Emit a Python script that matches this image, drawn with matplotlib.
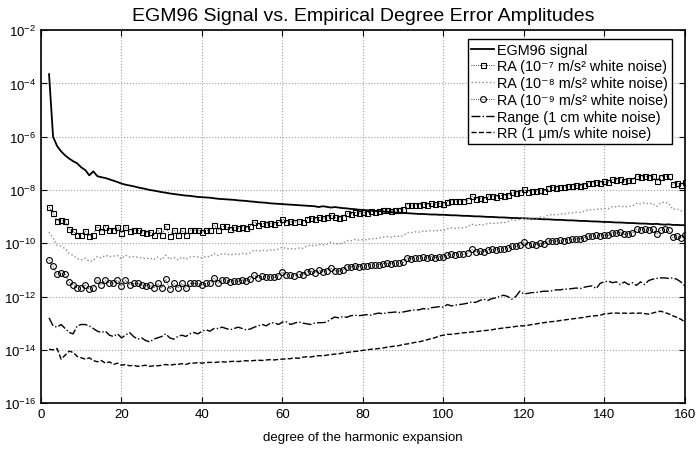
import numpy as np
import matplotlib
matplotlib.use("Agg")
import matplotlib.pyplot as plt

plt.rcParams['font.family'] = ['Liberation Sans', 'DejaVu Sans']
plt.rcParams['mathtext.fontset'] = 'custom'
plt.rcParams['mathtext.rm'] = 'Liberation Sans'
plt.rcParams['mathtext.it'] = 'Liberation Sans:italic'
plt.rcParams['mathtext.bf'] = 'Liberation Sans:bold'

# harmonic degree 2..160
degree = np.arange(2, 161)

# log10 of the degree amplitudes
egm96_exp = [
    -3.65, -6.00, -6.35, -6.55, -6.70, -6.82, -6.92, -7.00, -7.15, -7.25,
    -7.45, -7.30, -7.48, -7.52, -7.55, -7.60, -7.65, -7.70, -7.76, -7.80,
    -7.83, -7.86, -7.90, -7.93, -7.96, -8.00, -8.02, -8.05, -8.08, -8.10,
    -8.13, -8.15, -8.17, -8.19, -8.21, -8.22, -8.24, -8.26, -8.27, -8.28,
    -8.29, -8.31, -8.33, -8.34, -8.35, -8.36, -8.37, -8.39, -8.40, -8.41,
    -8.43, -8.44, -8.46, -8.47, -8.48, -8.50, -8.51, -8.52, -8.53, -8.54,
    -8.55, -8.56, -8.57, -8.58, -8.59, -8.60, -8.61, -8.64, -8.61, -8.63,
    -8.66, -8.64, -8.66, -8.68, -8.69, -8.71, -8.72, -8.74, -8.75, -8.76,
    -8.77, -8.79, -8.79, -8.81, -8.82, -8.83, -8.85, -8.85, -8.86, -8.87,
    -8.88, -8.89, -8.90, -8.90, -8.91, -8.92, -8.92, -8.93, -8.93, -8.94,
    -8.95, -8.95, -8.96, -8.97, -8.97, -8.98, -8.99, -8.99, -9.00, -9.01,
    -9.01, -9.02, -9.03, -9.03, -9.04, -9.05, -9.05, -9.06, -9.06, -9.07,
    -9.08, -9.08, -9.09, -9.10, -9.10, -9.11, -9.12, -9.12, -9.13, -9.14,
    -9.14, -9.15, -9.16, -9.16, -9.17, -9.18, -9.18, -9.19, -9.20, -9.20,
    -9.21, -9.22, -9.22, -9.23, -9.24, -9.24, -9.25, -9.26, -9.26, -9.27,
    -9.28, -9.27, -9.29, -9.30, -9.29, -9.31, -9.31, -9.32, -9.32]

ra7_exp = [
    -8.64, -8.86, -9.17, -9.13, -9.17, -9.47, -9.55, -9.68, -9.68, -9.55,
    -9.73, -9.68, -9.38, -9.55, -9.38, -9.49, -9.49, -9.38, -9.62, -9.38,
    -9.55, -9.51, -9.51, -9.56, -9.60, -9.56, -9.68, -9.50, -9.68, -9.35,
    -9.72, -9.50, -9.68, -9.51, -9.68, -9.51, -9.51, -9.51, -9.56, -9.51,
    -9.51, -9.32, -9.50, -9.37, -9.37, -9.45, -9.40, -9.43, -9.38, -9.42,
    -9.36, -9.20, -9.30, -9.24, -9.28, -9.25, -9.28, -9.22, -9.08, -9.19,
    -9.18, -9.22, -9.16, -9.19, -9.08, -9.04, -9.10, -9.02, -9.06, -9.03,
    -8.92, -9.03, -9.05, -9.00, -8.88, -8.90, -8.84, -8.88, -8.84, -8.87,
    -8.80, -8.83, -8.80, -8.76, -8.74, -8.77, -8.74, -8.75, -8.72, -8.55,
    -8.58, -8.55, -8.57, -8.52, -8.55, -8.50, -8.54, -8.50, -8.53, -8.44,
    -8.40, -8.43, -8.40, -8.42, -8.38, -8.23, -8.32, -8.30, -8.32, -8.24,
    -8.22, -8.25, -8.20, -8.22, -8.18, -8.09, -8.12, -8.08, -7.97, -8.06,
    -8.02, -8.05, -8.00, -8.03, -7.92, -7.90, -7.93, -7.88, -7.90, -7.86,
    -7.85, -7.83, -7.84, -7.80, -7.72, -7.74, -7.70, -7.72, -7.68, -7.70,
    -7.60, -7.62, -7.58, -7.66, -7.64, -7.62, -7.47, -7.50, -7.46, -7.52,
    -7.48, -7.66, -7.50, -7.47, -7.49, -7.78, -7.72, -7.80, -7.70]

ra8_exp = [
    -9.58, -9.80, -10.08, -10.12, -10.20, -10.38, -10.46, -10.58, -10.62, -10.56,
    -10.68, -10.65, -10.50, -10.55, -10.45, -10.50, -10.48, -10.46, -10.58, -10.45,
    -10.52, -10.50, -10.52, -10.55, -10.58, -10.55, -10.62, -10.52, -10.62, -10.45,
    -10.60, -10.52, -10.62, -10.52, -10.60, -10.52, -10.50, -10.52, -10.55, -10.50,
    -10.50, -10.38, -10.46, -10.40, -10.40, -10.44, -10.40, -10.42, -10.38, -10.40,
    -10.36, -10.25, -10.30, -10.26, -10.28, -10.25, -10.26, -10.22, -10.14, -10.21,
    -10.20, -10.22, -10.18, -10.19, -10.11, -10.07, -10.10, -10.04, -10.06, -10.04,
    -9.96, -10.02, -10.03, -9.99, -9.90, -9.91, -9.86, -9.88, -9.86, -9.87,
    -9.82, -9.83, -9.80, -9.77, -9.75, -9.77, -9.74, -9.74, -9.72, -9.60,
    -9.60, -9.57, -9.58, -9.54, -9.55, -9.52, -9.54, -9.51, -9.52, -9.46,
    -9.42, -9.44, -9.41, -9.42, -9.38, -9.28, -9.33, -9.30, -9.31, -9.26,
    -9.24, -9.26, -9.22, -9.23, -9.19, -9.12, -9.14, -9.10, -9.04, -9.08,
    -9.05, -9.06, -9.02, -9.03, -8.95, -8.92, -8.94, -8.90, -8.90, -8.87,
    -8.86, -8.84, -8.84, -8.80, -8.74, -8.75, -8.72, -8.72, -8.69, -8.70,
    -8.62, -8.63, -8.60, -8.64, -8.62, -8.60, -8.50, -8.52, -8.48, -8.52,
    -8.50, -8.62, -8.48, -8.46, -8.50, -8.72, -8.70, -8.78, -8.76]

ra9_exp = [
    -10.64, -10.86, -11.17, -11.13, -11.17, -11.47, -11.55, -11.68, -11.68, -11.55,
    -11.73, -11.68, -11.38, -11.55, -11.38, -11.49, -11.49, -11.38, -11.62, -11.38,
    -11.55, -11.51, -11.51, -11.56, -11.60, -11.56, -11.68, -11.50, -11.68, -11.35,
    -11.72, -11.50, -11.68, -11.51, -11.68, -11.51, -11.51, -11.51, -11.56, -11.51,
    -11.51, -11.32, -11.50, -11.37, -11.37, -11.45, -11.40, -11.43, -11.38, -11.42,
    -11.36, -11.20, -11.30, -11.24, -11.28, -11.25, -11.28, -11.22, -11.08, -11.19,
    -11.18, -11.22, -11.16, -11.19, -11.08, -11.04, -11.10, -11.02, -11.06, -11.03,
    -10.92, -11.03, -11.05, -11.00, -10.88, -10.90, -10.84, -10.88, -10.84, -10.87,
    -10.80, -10.83, -10.80, -10.76, -10.74, -10.77, -10.74, -10.75, -10.72, -10.55,
    -10.58, -10.55, -10.57, -10.52, -10.55, -10.50, -10.54, -10.50, -10.53, -10.44,
    -10.40, -10.43, -10.40, -10.42, -10.38, -10.23, -10.32, -10.30, -10.32, -10.24,
    -10.22, -10.25, -10.20, -10.22, -10.18, -10.09, -10.12, -10.08, -9.97, -10.06,
    -10.02, -10.05, -10.00, -10.03, -9.92, -9.90, -9.93, -9.88, -9.90, -9.86,
    -9.85, -9.83, -9.84, -9.80, -9.72, -9.74, -9.70, -9.72, -9.68, -9.70,
    -9.60, -9.62, -9.58, -9.66, -9.64, -9.62, -9.47, -9.50, -9.46, -9.52,
    -9.48, -9.66, -9.50, -9.47, -9.49, -9.78, -9.72, -9.80, -9.70]

range_exp = [
    -12.80, -13.10, -13.15, -13.05, -13.20, -13.35, -13.40, -13.10, -13.05, -13.05,
    -13.10, -13.20, -13.30, -13.35, -13.30, -13.45, -13.50, -13.40, -13.55, -13.45,
    -13.35, -13.50, -13.60, -13.55, -13.65, -13.70, -13.60, -13.55, -13.50, -13.40,
    -13.55, -13.60, -13.50, -13.45, -13.50, -13.40, -13.35, -13.40, -13.30, -13.25,
    -13.30, -13.20, -13.20, -13.15, -13.20, -13.25, -13.20, -13.15, -13.20, -13.25,
    -13.22, -13.15, -13.10, -13.05, -13.10, -13.00, -12.98, -13.05, -12.96, -12.95,
    -13.05, -13.00, -12.95, -13.00, -13.02, -13.05, -13.00, -12.98, -12.98, -12.96,
    -12.85, -12.77, -12.80, -12.75, -12.78, -12.72, -12.70, -12.72, -12.70, -12.68,
    -12.70, -12.65, -12.62, -12.65, -12.60, -12.60, -12.58, -12.60, -12.58, -12.55,
    -12.52, -12.50, -12.50, -12.45, -12.48, -12.42, -12.40, -12.38, -12.40, -12.30,
    -12.35, -12.32, -12.30, -12.28, -12.25, -12.20, -12.22, -12.15, -12.10, -12.15,
    -12.08, -12.05, -12.00, -11.95, -12.00, -12.10, -12.00, -11.80, -11.90, -11.88,
    -11.85, -11.85, -11.82, -11.80, -11.80, -11.78, -11.75, -11.75, -11.72, -11.72,
    -11.70, -11.68, -11.70, -11.65, -11.62, -11.60, -11.70, -11.50, -11.45, -11.42,
    -11.48, -11.45, -11.55, -11.45, -11.55, -11.48, -11.58, -11.45, -11.55, -11.40,
    -11.35, -11.32, -11.30, -11.30, -11.32, -11.30, -11.35, -11.45, -11.60]

rr_exp = [
    -13.98, -14.00, -13.95, -14.35, -14.20, -14.05, -14.10, -14.25, -14.30, -14.35,
    -14.30, -14.40, -14.45, -14.40, -14.50, -14.45, -14.55, -14.50, -14.58, -14.55,
    -14.60, -14.58, -14.62, -14.60, -14.58, -14.62, -14.60, -14.60, -14.58, -14.55,
    -14.58, -14.55, -14.55, -14.52, -14.55, -14.50, -14.50, -14.48, -14.50, -14.48,
    -14.47, -14.48, -14.46, -14.45, -14.46, -14.44, -14.43, -14.44, -14.42, -14.41,
    -14.42, -14.40, -14.39, -14.40, -14.38, -14.37, -14.38, -14.36, -14.35, -14.34,
    -14.33, -14.30, -14.32, -14.28, -14.26, -14.27, -14.24, -14.22, -14.23, -14.20,
    -14.18, -14.16, -14.15, -14.12, -14.10, -14.08, -14.06, -14.05, -14.02, -14.00,
    -13.98, -13.97, -13.95, -13.93, -13.90, -13.88, -13.86, -13.84, -13.80, -13.78,
    -13.75, -13.72, -13.70, -13.66, -13.62, -13.58, -13.54, -13.48, -13.45, -13.42,
    -13.42, -13.40, -13.38, -13.36, -13.35, -13.33, -13.32, -13.30, -13.28, -13.27,
    -13.25, -13.22, -13.20, -13.18, -13.16, -13.15, -13.12, -13.10, -13.10, -13.08,
    -13.05, -13.03, -13.00, -12.98, -12.96, -12.94, -12.93, -12.90, -12.88, -12.86,
    -12.84, -12.82, -12.80, -12.78, -12.75, -12.73, -12.72, -12.70, -12.65, -12.64,
    -12.62, -12.62, -12.63, -12.62, -12.64, -12.62, -12.63, -12.62, -12.64, -12.66,
    -12.62, -12.58, -12.55, -12.60, -12.65, -12.72, -12.78, -12.85, -12.95]

labels = ['EGM96 signal',
          'RA (10\u207b\u2077 m/s\u00b2 white noise)',
          'RA (10\u207b\u2078 m/s\u00b2 white noise)',
          'RA (10\u207b\u2079 m/s\u00b2 white noise)',
          'Range (1 cm white noise)',
          'RR (1 \u03bcm/s white noise)']

fig = plt.figure(figsize=(6.96, 4.52), dpi=100)
ax = fig.add_axes([0.0589, 0.106, 0.925, 0.825])

ax.semilogy(degree, 10.0 ** np.array(egm96_exp), '-', color='black', lw=1.3, label=labels[0])
ax.semilogy(degree, 10.0 ** np.array(ra7_exp), ':', color='black', lw=0.6, marker='s',
            ms=3.6, mfc='none', mec='black', mew=0.8, label=labels[1])
ax.semilogy(degree, 10.0 ** np.array(ra8_exp), ':', color='#8c8c8c', lw=1.0, label=labels[2])
ax.semilogy(degree, 10.0 ** np.array(ra9_exp), ':', color='black', lw=0.6, marker='o',
            ms=4.2, mfc='none', mec='black', mew=0.8, label=labels[3])
ax.semilogy(degree, 10.0 ** np.array(range_exp), '-.', color='black', lw=1.0, label=labels[4])
ax.semilogy(degree, 10.0 ** np.array(rr_exp), '--', color='black', lw=1.0, label=labels[5])

ax.set_xlim(0, 160)
ax.set_ylim(1e-16, 1e-2)
ax.set_xticks(np.arange(0, 161, 20))
ax.set_yticks([10.0 ** k for k in range(-16, -1, 2)])
ax.minorticks_off()
ax.tick_params(direction='in', top=True, right=True, labelsize=9.5, length=4, width=0.8)
ax.grid(True, linestyle=':', color='#a0a0a0', linewidth=0.8)
for s in ax.spines.values():
    s.set_linewidth(1.2)

ax.set_title('EGM96 Signal vs. Empirical Degree Error Amplitudes', fontsize=14.0, pad=7)
ax.set_xlabel('degree of the harmonic expansion', fontsize=9.5, labelpad=8)

leg = ax.legend(loc='upper right', bbox_to_anchor=(0.98, 0.976), borderaxespad=0,
                fontsize=10.4, fancybox=False, framealpha=1, edgecolor='black',
                handlelength=1.6, handletextpad=0.2, labelspacing=0.19, borderpad=0.25)
leg.get_frame().set_linewidth(1.0)

fig.savefig('out.png', dpi=100)
